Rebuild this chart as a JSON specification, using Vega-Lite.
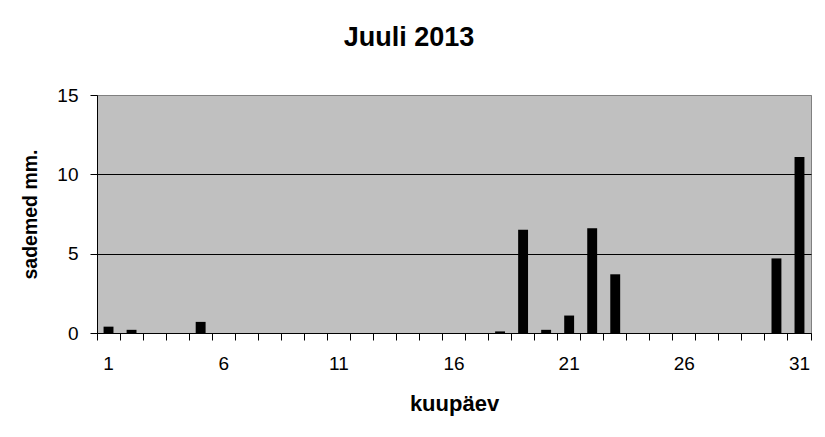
{
  "$schema": "https://vega.github.io/schema/vega-lite/v6.json",
  "description": "Juuli 2013 sademed",
  "autosize": "none",
  "padding": {"left": 97, "top": 95, "right": 14, "bottom": 104},
  "width": 714,
  "height": 238,
  "background": "white",
  "title": {
    "text": "Juuli 2013",
    "font": "Liberation Sans",
    "fontSize": 27,
    "fontWeight": "bold",
    "color": "black",
    "anchor": "middle",
    "baseline": "alphabetic",
    "dx": -45,
    "offset": 13
  },
  "data": {
    "values": [
      {"day": 1, "mm": 0.4},
      {"day": 2, "mm": 0.2},
      {"day": 3, "mm": 0},
      {"day": 4, "mm": 0},
      {"day": 5, "mm": 0.7},
      {"day": 6, "mm": 0},
      {"day": 7, "mm": 0},
      {"day": 8, "mm": 0},
      {"day": 9, "mm": 0},
      {"day": 10, "mm": 0},
      {"day": 11, "mm": 0},
      {"day": 12, "mm": 0},
      {"day": 13, "mm": 0},
      {"day": 14, "mm": 0},
      {"day": 15, "mm": 0},
      {"day": 16, "mm": 0},
      {"day": 17, "mm": 0},
      {"day": 18, "mm": 0.1},
      {"day": 19, "mm": 6.5},
      {"day": 20, "mm": 0.2},
      {"day": 21, "mm": 1.1},
      {"day": 22, "mm": 6.6},
      {"day": 23, "mm": 3.7},
      {"day": 24, "mm": 0},
      {"day": 25, "mm": 0},
      {"day": 26, "mm": 0},
      {"day": 27, "mm": 0},
      {"day": 28, "mm": 0},
      {"day": 29, "mm": 0},
      {"day": 30, "mm": 4.7},
      {"day": 31, "mm": 11.1}
    ]
  },
  "mark": {"type": "bar", "color": "black", "width": {"band": 0.43}},
  "encoding": {
    "x": {
      "field": "day",
      "type": "ordinal",
      "scale": {"paddingInner": 0, "paddingOuter": 0},
      "title": "kuupäev",
      "axis": {
        "labelAngle": 0,
        "labelExpr": "(datum.value - 1) % 5 == 0 ? datum.label : ''",
        "bandPosition": 1,
        "tickExtra": true,
        "tickSize": 7,
        "labelPadding": 14,
        "titlePadding": 20,
        "titleFontSize": 22
      }
    },
    "y": {
      "field": "mm",
      "type": "quantitative",
      "scale": {"domain": [0, 15], "nice": false},
      "title": "sademed mm.",
      "axis": {
        "values": [0, 5, 10, 15],
        "tickSize": 7,
        "labelPadding": 12,
        "titlePadding": 16,
        "titleFontSize": 19.5,
        "gridColor": {"condition": {"test": "datum.value == 15", "value": "#808080"}, "value": "black"}
      }
    }
  },
  "config": {
    "view": {"fill": "#C0C0C0", "stroke": "#808080", "strokeWidth": 1},
    "axis": {
      "labelFont": "Liberation Sans",
      "labelFontSize": 19,
      "labelColor": "black",
      "titleFont": "Liberation Sans",
      "titleFontWeight": "bold",
      "titleColor": "black",
      "domainColor": "black",
      "tickColor": "black",
      "gridColor": "black",
      "gridOpacity": 1
    },
    "axisX": {"grid": false},
    "axisY": {"grid": true}
  }
}
